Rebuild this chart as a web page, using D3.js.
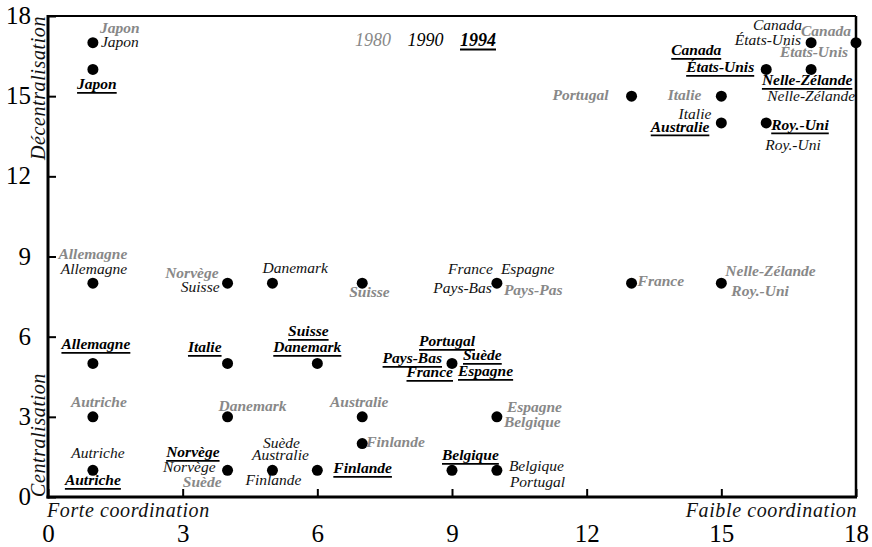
<!DOCTYPE html>
<html>
<head>
<meta charset="utf-8">
<script src="https://cdn.jsdelivr.net/npm/d3@7"></script>
<style>
  body { margin: 0; background: #fff; }
  svg { display: block; }
  text { font-family: "Liberation Serif", "Times New Roman", serif; }
</style>
</head>
<body>
<svg id="chart" width="872" height="547"></svg>
<script>
// Coordination (x) vs centralisation (y), three years
const years = ["1980", "1990", "1994"];

const points1980 = [
    { pays: "Japon", x: 1, y: 17 },
    { pays: "Portugal", x: 13, y: 15 },
    { pays: "Italie", x: 15, y: 15 },
    { pays: "Canada", x: 18, y: 17 },
    { pays: "États-Unis", x: 18, y: 17 },
    { pays: "Allemagne", x: 1, y: 8 },
    { pays: "Norvège", x: 4, y: 8 },
    { pays: "Suisse", x: 7, y: 8 },
    { pays: "Pays-Pas", x: 10, y: 8 },
    { pays: "France", x: 13, y: 8 },
    { pays: "Nelle-Zélande", x: 15, y: 8 },
    { pays: "Roy.-Uni", x: 15, y: 8 },
    { pays: "Autriche", x: 1, y: 3 },
    { pays: "Danemark", x: 4, y: 3 },
    { pays: "Suède", x: 4, y: 1 },
    { pays: "Australie", x: 7, y: 3 },
    { pays: "Finlande", x: 7, y: 2 },
    { pays: "Espagne", x: 10, y: 3 },
    { pays: "Belgique", x: 10, y: 3 }
];

const points1990 = [
    { pays: "Japon", x: 1, y: 17 },
    { pays: "Canada", x: 17, y: 17 },
    { pays: "États-Unis", x: 17, y: 17 },
    { pays: "Italie", x: 15, y: 14 },
    { pays: "Nelle-Zélande", x: 17, y: 16 },
    { pays: "Roy.-Uni", x: 16, y: 14 },
    { pays: "Allemagne", x: 1, y: 8 },
    { pays: "Suisse", x: 4, y: 8 },
    { pays: "Danemark", x: 5, y: 8 },
    { pays: "France", x: 10, y: 8 },
    { pays: "Espagne", x: 10, y: 8 },
    { pays: "Pays-Bas", x: 10, y: 8 },
    { pays: "Autriche", x: 1, y: 1 },
    { pays: "Norvège", x: 4, y: 1 },
    { pays: "Suède", x: 5, y: 1 },
    { pays: "Australie", x: 5, y: 1 },
    { pays: "Finlande", x: 5, y: 1 },
    { pays: "Belgique", x: 10, y: 1 },
    { pays: "Portugal", x: 10, y: 1 }
];

const points1994 = [
    { pays: "Japon", x: 1, y: 16 },
    { pays: "Canada", x: 16, y: 16 },
    { pays: "États-Unis", x: 16, y: 16 },
    { pays: "Nelle-Zélande", x: 17, y: 16 },
    { pays: "Australie", x: 15, y: 14 },
    { pays: "Roy.-Uni", x: 16, y: 14 },
    { pays: "Allemagne", x: 1, y: 5 },
    { pays: "Italie", x: 4, y: 5 },
    { pays: "Suisse", x: 6, y: 5 },
    { pays: "Danemark", x: 6, y: 5 },
    { pays: "Portugal", x: 9, y: 5 },
    { pays: "Pays-Bas", x: 9, y: 5 },
    { pays: "France", x: 9, y: 5 },
    { pays: "Suède", x: 9, y: 5 },
    { pays: "Espagne", x: 9, y: 5 },
    { pays: "Autriche", x: 1, y: 1 },
    { pays: "Norvège", x: 4, y: 1 },
    { pays: "Finlande", x: 6, y: 1 },
    { pays: "Belgique", x: 9, y: 1 }
];

const ticks = [0, 3, 6, 9, 12, 15, 18];

// label placement around each dot: [anchor, dx, dy]
const labelPos = {
    "1980": {
        "Japon": ["start", 7, -10], "Portugal": ["end", -23, 4], "Italie": ["end", -20, 4],
        "Canada": ["end", -5, -7], "États-Unis": ["end", -8, 14], "Allemagne": ["middle", 0, -24],
        "Norvège": ["end", -9, -5], "Suisse": ["start", -13, 14], "Pays-Pas": ["start", 7, 12],
        "France": ["start", 6, 3], "Nelle-Zélande": ["start", 4, -7], "Roy.-Uni": ["start", 10, 13],
        "Autriche": ["middle", 6, -10], "Danemark": ["start", -9, -6], "Suède": ["end", -6, 17],
        "Australie": ["middle", -3, -10], "Finlande": ["start", 4, 3], "Espagne": ["start", 10, -5],
        "Belgique": ["start", 7, 10]
    },
    "1990": {
        "Japon": ["start", 8, 4], "Canada": ["end", -9, -13], "États-Unis": ["end", -10, 2],
        "Italie": ["end", -10, -4], "Nelle-Zélande": ["middle", 0, 32], "Roy.-Uni": ["start", -1, 27],
        "Allemagne": ["middle", 1, -9], "Suisse": ["end", -8, 9], "Danemark": ["start", -10, -10],
        "France": ["end", -4, -9], "Espagne": ["start", 4, -9], "Pays-Bas": ["end", -5, 10],
        "Autriche": ["middle", 5, -12], "Norvège": ["end", -12, 2], "Suède": ["middle", 9, -22],
        "Australie": ["middle", 8, -10], "Finlande": ["middle", 1, 15], "Belgique": ["start", 12, 1],
        "Portugal": ["start", 13, 17]
    },
    "1994": {
        "Japon": ["middle", 4, 20], "Canada": ["end", -45, -14], "États-Unis": ["end", -12, 3],
        "Nelle-Zélande": ["middle", -4, 16], "Australie": ["end", -12, 9], "Roy.-Uni": ["start", 5, 7],
        "Allemagne": ["middle", 3, -14], "Italie": ["end", -6, -11], "Suisse": ["middle", -9, -27],
        "Danemark": ["end", 24, -11], "Portugal": ["middle", -5, -17], "Pays-Bas": ["end", -10, 0],
        "France": ["end", 1, 14], "Suède": ["start", 11, -3], "Espagne": ["start", 6, 13],
        "Autriche": ["middle", 0, 15], "Norvège": ["end", -8, -13], "Finlande": ["start", 16, 3],
        "Belgique": ["start", -10, -10]
    }
};

const yearStyle = {
    "1980": { fill: "#888", weight: "bold", underline: false },
    "1990": { fill: "#111", weight: "normal", underline: false },
    "1994": { fill: "#000", weight: "bold", underline: true }
};

const svg = d3.select("#chart");
const x = d3.scaleLinear().domain([0, 18]).range([48, 856]);
const y = d3.scaleLinear().domain([0, 18]).range([497, 16]);

// axes, ticks inward
const xAxis = svg.append("g")
    .attr("transform", `translate(0,${y(0)})`)
    .call(d3.axisBottom(x).tickValues(ticks).tickSize(-8).tickPadding(29));
const yAxis = svg.append("g")
    .attr("transform", `translate(${x(0)},0)`)
    .call(d3.axisLeft(y).tickValues(ticks).tickSize(-8).tickPadding(17));

[xAxis, yAxis].forEach(g => {
    g.select(".domain").remove();
    g.selectAll(".tick line").attr("stroke", "#000").attr("stroke-width", 2);
    g.selectAll(".tick text")
        .attr("font-family", "Liberation Serif, Times New Roman, serif")
        .attr("font-size", 25)
        .attr("fill", "#000");
});
xAxis.selectAll(".tick text").attr("dy", "0.62em");
yAxis.selectAll(".tick text").attr("dy", "0.3em");

// frame
svg.append("line").attr("x1", x(0)).attr("x2", x(18)).attr("y1", y(18)).attr("y2", y(18))
    .attr("stroke", "#000").attr("stroke-width", 2);
svg.append("line").attr("x1", x(18)).attr("x2", x(18)).attr("y1", y(18)).attr("y2", y(0))
    .attr("stroke", "#000").attr("stroke-width", 2.5);
svg.append("line").attr("x1", x(0)).attr("x2", x(0)).attr("y1", y(18) - 1).attr("y2", y(0) + 1.5)
    .attr("stroke", "#000").attr("stroke-width", 3);
svg.append("line").attr("x1", x(0) - 1.5).attr("x2", x(18) + 1).attr("y1", y(0)).attr("y2", y(0))
    .attr("stroke", "#000").attr("stroke-width", 3);

// axis titles
const titleStyle = sel => sel
    .attr("font-size", 20)
    .attr("font-style", "italic")
    .attr("letter-spacing", 0.6)
    .attr("fill", "#111");

svg.append("text").text("Forte coordination")
    .attr("x", x(0) - 1).attr("y", 517).call(titleStyle);
svg.append("text").text("Faible coordination")
    .attr("x", x(18) + 1).attr("y", 517).attr("text-anchor", "end").call(titleStyle);
svg.append("text").text("Décentralisation")
    .attr("transform", `translate(45,${y(18)}) rotate(-90)`)
    .attr("text-anchor", "end").call(titleStyle);
svg.append("text").text("Centralisation")
    .attr("transform", `translate(45,${y(0)}) rotate(-90)`)
    .attr("text-anchor", "start").call(titleStyle);

// dots (unique positions over all years)
const allPoints = [...points1980, ...points1990, ...points1994];
const uniq = Array.from(d3.group(allPoints, d => d.x + "," + d.y).values(), v => v[0]);
svg.append("g").selectAll("circle")
    .data(uniq)
    .join("circle")
    .attr("cx", d => x(d.x))
    .attr("cy", d => y(d.y))
    .attr("r", 5.5)
    .attr("fill", "#000");

function underline(g, textSel, color) {
    textSel.each(function () {
        const el = d3.select(this);
        const w = this.getComputedTextLength();
        const anchor = el.attr("text-anchor");
        const tx = +el.attr("x");
        const x0 = anchor === "end" ? tx - w : anchor === "middle" ? tx - w / 2 : tx;
        g.append("line")
            .attr("x1", x0).attr("x2", x0 + w)
            .attr("y1", +el.attr("y") + 3.5).attr("y2", +el.attr("y") + 3.5)
            .attr("stroke", color).attr("stroke-width", 1.8);
    });
}

// country labels
const byYear = { "1980": points1980, "1990": points1990, "1994": points1994 };
years.forEach(yr => {
    const st = yearStyle[yr];
    const g = svg.append("g").attr("class", "labels-" + yr);
    const t = g.selectAll("text")
        .data(byYear[yr])
        .join("text")
        .text(d => d.pays)
        .attr("x", d => x(d.x) + labelPos[yr][d.pays][1])
        .attr("y", d => y(d.y) + labelPos[yr][d.pays][2])
        .attr("text-anchor", d => labelPos[yr][d.pays][0])
        .attr("font-size", 15.5)
        .attr("font-style", "italic")
        .attr("font-weight", st.weight)
        .attr("fill", st.fill);
    if (st.underline) underline(g, t, st.fill);
});

// legend
const legendX = d3.scalePoint().domain(years).range([355, 460]);
const lg = svg.append("g");
const lt = lg.selectAll("text")
    .data(years)
    .join("text")
    .text(d => d)
    .attr("x", d => legendX(d))
    .attr("y", 46)
    .attr("font-size", 18)
    .attr("font-style", "italic")
    .attr("font-weight", d => d === "1994" ? "bold" : "normal")
    .attr("fill", d => d === "1980" ? "#888" : "#000");
underline(lg, lt.filter(d => d === "1994"), "#000");
</script>
</body>
</html>
